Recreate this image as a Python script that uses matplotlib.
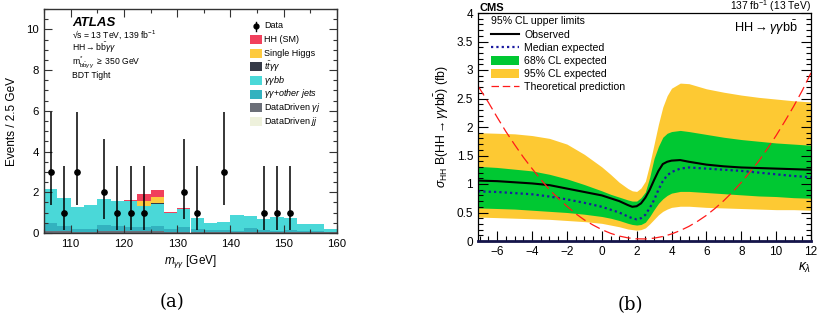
import numpy as np
import matplotlib
matplotlib.use("Agg")
import matplotlib.pyplot as plt
from matplotlib.patches import Patch, Rectangle
from matplotlib.lines import Line2D
from matplotlib.ticker import MultipleLocator, FormatStrFormatter

plt.rcParams['font.family'] = ['Liberation Sans', 'DejaVu Sans']
plt.rcParams['mathtext.fontset'] = 'custom'
plt.rcParams['mathtext.rm'] = 'Liberation Sans'
plt.rcParams['mathtext.it'] = 'Liberation Sans:italic'
plt.rcParams['mathtext.bf'] = 'Liberation Sans:bold'

# ---------------- panel (a) data ----------------
bin_lo, bin_hi, bin_w = 105.0, 160.0, 2.5
dd_jj = [0.01]*22
dd_gj = [0.10,0.10,0.05,0.05,0.08,0.08,0.08,0.10,0.08,0.05,0.06,0.05,0.03,0.03,0.04,0.05,0.04,0.03,0.03,0.02,0.02,0.02]
gg_other = [0.37,0.23,0.14,0.14,0.30,0.27,0.21,0.17,0.23,0.16,0.23,0.16,0.11,0.11,0.07,0.19,0.10,0.08,0.11,0.07,0.07,0.02]
gg_bb = [1.66,1.39,1.09,1.17,1.26,1.20,1.26,1.03,1.12,0.75,0.90,0.52,0.32,0.38,0.76,0.58,0.53,0.66,0.58,0.33,0.32,0.16]
tt_gg = [0,0,0,0,0,0,0,0.02,0.02,0,0,0,0,0,0,0,0,0,0,0,0,0]
single_h = [0,0,0,0,0,0.01,0.03,0.25,0.30,0.02,0,0,0,0,0,0,0,0,0,0,0,0]
hh_sm = [0.01,0.01,0.01,0.01,0.01,0.01,0.04,0.34,0.36,0.04,0.01,0.01,0.01,0.01,0.01,0.01,0.01,0.01,0.01,0.01,0.01,0.01]

data_x = [106.25,108.75,111.25,116.25,118.75,121.25,123.75,131.25,133.75,138.75,146.25,148.75,151.25]
data_n = [3,1,3,2,1,1,1,2,1,3,1,1,1]
data_lo = [1.37,0.17,1.37,0.71,0.17,0.17,0.17,0.71,0.17,1.37,0.17,0.17,0.17]
data_hi = [5.92,3.30,5.92,4.64,3.30,3.30,3.30,4.64,3.30,5.92,3.30,3.30,3.30]

bkg_names = ["DataDriven $jj$", r"DataDriven $\gamma j$", r"$\gamma\gamma$+$other\ jets$",
             r"$\gamma\gamma bb$", r"$t\bar{t}\gamma\gamma$", "Single Higgs", "HH (SM)"]
bkg_colors = ["#eef1dc", "#6b6f78", "#33b2bf", "#4ad8d8", "#353a47", "#fdca3f", "#f1405c"]

# ---------------- panel (b) data ----------------
kl = [-7.1,-6,-5,-4,-3,-2,-1,0,0.5,1,1.5,1.75,2,2.25,2.5,2.75,3,3.25,3.5,3.75,4,4.5,5,6,7,8,9,10,11,12]
obs = [1.06,1.05,1.03,1.01,0.98,0.92,0.86,0.80,0.75,0.70,0.63,0.60,0.61,0.66,0.76,0.90,1.07,1.23,1.35,1.39,1.41,1.42,1.39,1.34,1.31,1.29,1.28,1.27,1.26,1.25]
exp_med = [0.87,0.86,0.84,0.82,0.78,0.73,0.67,0.60,0.55,0.50,0.43,0.40,0.38,0.40,0.46,0.58,0.72,0.90,1.05,1.15,1.21,1.27,1.29,1.27,1.25,1.23,1.20,1.17,1.14,1.12]
exp_68_lo = [0.58,0.57,0.56,0.54,0.52,0.50,0.47,0.43,0.40,0.36,0.31,0.29,0.28,0.29,0.33,0.43,0.55,0.66,0.74,0.80,0.84,0.87,0.87,0.85,0.83,0.81,0.79,0.78,0.76,0.75]
exp_68_hi = [1.31,1.29,1.26,1.23,1.17,1.09,0.99,0.88,0.82,0.77,0.72,0.70,0.70,0.76,0.86,1.12,1.45,1.66,1.82,1.89,1.92,1.94,1.92,1.87,1.82,1.78,1.75,1.72,1.70,1.68]
exp_95_lo = [0.42,0.41,0.40,0.39,0.38,0.36,0.34,0.31,0.28,0.25,0.21,0.20,0.19,0.20,0.23,0.30,0.38,0.46,0.52,0.56,0.59,0.61,0.61,0.59,0.58,0.57,0.56,0.55,0.55,0.54]
exp_95_hi = [1.90,1.89,1.88,1.85,1.80,1.70,1.52,1.30,1.17,1.03,0.92,0.88,0.87,0.93,1.05,1.35,1.70,2.05,2.35,2.55,2.68,2.77,2.76,2.67,2.61,2.56,2.52,2.49,2.46,2.44]

th_kl = [-7.1,-6.5,-6,-5.5,-5,-4.5,-4,-3.5,-3,-2.5,-2,-1.5,-1,-0.5,0,0.5,1,1.5,2,2.5,3,3.5,4,4.5,5,5.5,6,6.5,7,7.5,8,8.5,9,9.5,10,10.5,11,11.5,12]
th_xs = [2.72,2.43,2.17,1.92,1.69,1.47,1.27,1.08,0.90,0.75,0.61,0.48,0.37,0.28,0.20,0.135,0.087,0.055,0.038,0.036,0.05,0.079,0.123,0.183,0.257,0.347,0.45,0.573,0.709,0.86,1.026,1.21,1.40,1.62,1.85,2.10,2.36,2.64,2.95]

fig = plt.figure(figsize=(8.17, 3.28), dpi=100)
W, H = 817.0, 328.0

# ================= panel (a) =================
A_L, A_R, A_T, A_B = 44, 337, 9, 233
ax1 = fig.add_axes([A_L/W, 1-A_B/H, (A_R-A_L)/W, (A_B-A_T)/H])
edges = np.arange(bin_lo, bin_hi + 0.001, bin_w)
centers = 0.5*(edges[:-1] + edges[1:])
layers = [dd_jj, dd_gj, gg_other, gg_bb, tt_gg, single_h, hh_sm]
bottom = np.zeros(len(centers))
for vals, c in zip(layers, bkg_colors):
    v = np.array(vals)
    ax1.bar(centers, v, width=bin_w, bottom=bottom, color=c, linewidth=0, align='center')
    bottom = bottom + v

dx = np.array(data_x); dn = np.array(data_n)
ax1.errorbar(dx, dn, yerr=[dn-np.array(data_lo), np.array(data_hi)-dn], fmt='o', color='black',
             ms=3.8, elinewidth=1.1, capsize=0, zorder=5)

ax1.set_xlim(bin_lo, bin_hi)
ax1.set_ylim(0, 11)
ax1.xaxis.set_major_locator(MultipleLocator(10))
ax1.xaxis.set_minor_locator(MultipleLocator(5))
ax1.yaxis.set_major_locator(MultipleLocator(2))
ax1.yaxis.set_minor_locator(MultipleLocator(0.5))
ax1.tick_params(which='both', direction='in', top=True, right=True, labelsize=8.2, width=0.8, color='#333333')
ax1.tick_params(which='major', length=6)
ax1.tick_params(which='minor', length=3)
ax1.tick_params(axis='x', pad=4)
for s in ax1.spines.values():
    s.set_linewidth(1.0); s.set_color('#333333')
ax1.set_ylabel("Events / 2.5 GeV", fontsize=8.5, labelpad=6)
ax1.set_xlabel(r"$m_{\gamma\gamma}$ [GeV]", fontsize=8.5, labelpad=3)

def ax_frac(px, py):
    return (px - A_L)/(A_R - A_L), (A_B - py)/(A_B - A_T)

x0, y0 = ax_frac(72, 26)
ax1.text(x0, y0, "ATLAS", transform=ax1.transAxes, fontsize=9.5, fontweight='bold', style='italic')
info = [r"√s = 13 TeV, 139 fb$^{-1}$",
        r"HH$\rightarrow$b$\bar{\mathrm{b}}\gamma\gamma$",
        r"m$^{*}_{\mathrm{b\bar{b}}\gamma\gamma}$ $\geq$ 350 GeV",
        "BDT Tight"]
info_py = [37.5, 51, 64.5, 78.5]
for t, py in zip(info, info_py):
    xx, yy = ax_frac(72, py)
    ax1.text(xx, yy, t, transform=ax1.transAxes, fontsize=6.2)

# manual legend (a)
leg_names = ["HH (SM)", "Single Higgs", r"$t\bar{t}\gamma\gamma$", r"$\gamma\gamma bb$",
             r"$\gamma\gamma$+$other\ jets$", r"DataDriven $\gamma j$", "DataDriven $jj$"]
leg_cols = bkg_colors[::-1]
row0, dy = 26.0, 13.6
mx, my = ax_frac(256, row0)
ax1.plot([mx], [my], 'o', color='black', ms=3.5, transform=ax1.transAxes, clip_on=False)
ax1.plot([mx, mx], [ax_frac(0, row0-4.5)[1], ax_frac(0, row0+4.5)[1]], color='black', lw=1.0,
         transform=ax1.transAxes, clip_on=False)
tx, ty = ax_frac(264.5, row0)
ax1.text(tx, ty, "Data", transform=ax1.transAxes, fontsize=6.5, va='center')
for i, (n, c) in enumerate(zip(leg_names, leg_cols)):
    py = row0 + dy*(i+1)
    rx, ry = ax_frac(250, py+4.5)
    rx2, ry2 = ax_frac(262, py-4.5)
    ax1.add_patch(Rectangle((rx, ry), rx2-rx, ry2-ry, transform=ax1.transAxes, facecolor=c,
                            edgecolor='none', clip_on=False))
    tx, ty = ax_frac(264.5, py)
    ax1.text(tx, ty, n, transform=ax1.transAxes, fontsize=6.5, va='center')

# ================= panel (b) =================
ax2 = fig.add_axes([478/W, 1-241/H, (811-478)/W, (241-13)/H])
ax2.fill_between(kl, exp_95_lo, exp_95_hi, color='#fdc933', linewidth=0)
ax2.fill_between(kl, exp_68_lo, exp_68_hi, color='#00c832', linewidth=0)
ax2.plot(kl, exp_med, color='#1a1aa0', lw=1.6, linestyle=(0, (1, 1.4)))
ax2.plot(kl, obs, color='black', lw=1.5)
ax2.plot(th_kl, th_xs, color='#ff1a1a', lw=0.9, linestyle=(0, (9, 4)))
ax2.set_xlim(-7.1, 12)
ax2.set_ylim(0, 4)
ax2.xaxis.set_major_locator(MultipleLocator(2))
ax2.xaxis.set_minor_locator(MultipleLocator(0.5))
ax2.yaxis.set_major_locator(MultipleLocator(0.5))
ax2.yaxis.set_minor_locator(MultipleLocator(0.1))
ax2.yaxis.set_major_formatter(FormatStrFormatter('%g'))
ax2.tick_params(which='both', direction='in', right=True, top=False, labelsize=8.5, width=0.8)
ax2.tick_params(which='major', length=7)
ax2.tick_params(which='minor', length=3.5)
for s in ax2.spines.values():
    s.set_linewidth(0.9)
ax2.spines['bottom'].set_linewidth(2.0)
ax2.spines['bottom'].set_color('#14144a')
ax2.set_ylabel(r"$\sigma_{\mathrm{HH}}$ $\mathrm{B(HH}\rightarrow\gamma\gamma\mathrm{b\bar{b})}$ (fb)", fontsize=8.8, labelpad=4)
ax2.set_xlabel(r"$\kappa_{\lambda}$", fontsize=10, loc='right', labelpad=2)
fig.text(480/W, 1-11/H, "CMS", fontsize=8.0, fontweight='bold', va='baseline', ha='left')
fig.text(811/W, 1-10.5/H, r"137 fb$^{-1}$ (13 TeV)", fontsize=7.4, ha='right', va='baseline')
ax2.text(0.96, 0.915, r"HH$\rightarrow\gamma\gamma\mathrm{b\bar{b}}$", transform=ax2.transAxes, fontsize=9.2, ha='right')

h2 = [Line2D([], [], color='black', lw=1.5),
      Line2D([], [], color='#1a1aa0', lw=1.6, linestyle=(0, (1, 1.4))),
      Patch(facecolor='#00c832', edgecolor='none'),
      Patch(facecolor='#fdc933', edgecolor='none'),
      Line2D([], [], color='#ff1a1a', lw=0.9, linestyle=(0, (6, 3)))]
l2 = ["Observed", "Median expected", "68% CL expected", "95% CL expected", "Theoretical prediction"]
leg2 = ax2.legend(h2, l2, title="95% CL upper limits", title_fontsize=7.6, fontsize=7.6, loc='upper left',
                  bbox_to_anchor=(0.04, 0.985), frameon=False, alignment='left', handlelength=2.6,
                  handleheight=0.9, handletextpad=0.5, labelspacing=0.3, borderaxespad=0, borderpad=0)

fig.text(160/W, 1-302/H, "(a)", fontsize=13, family='DejaVu Serif', ha='left', va='center')
fig.text(618/W, 1-305/H, "(b)", fontsize=13, family='DejaVu Serif', ha='left', va='center')

fig.savefig("out.png", dpi=100)
